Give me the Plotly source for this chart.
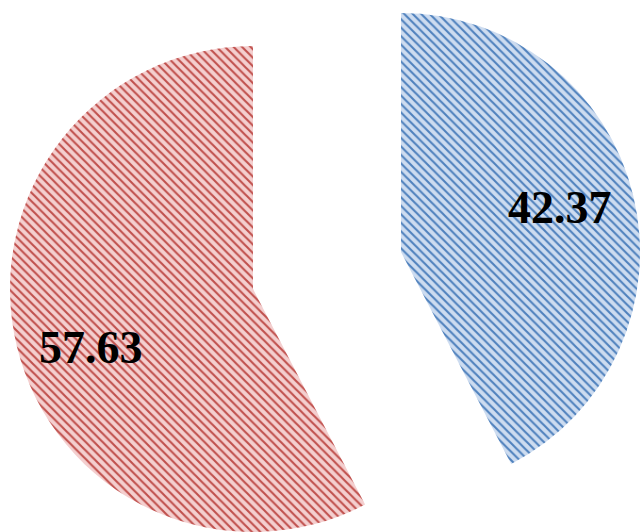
import math
import plotly.graph_objects as go

labels = ["Blue share", "Red share"]
values = [42.37, 57.63]
label_text = ["42.37", "57.63"]

W, H = 640, 532
fill_fg = ["#4f81bd", "#c0504d"]
fill_bg = ["#cddcf0", "#f4cfcf"]

# centres / radius of each exploded slice (pixels)
radii = [239, 243]
centres = [(401, 252), (253, 289)]
# label placement: fraction of radius and angular nudge (deg) from bisector
label_frac = [0.69, 0.71]
label_nudge = [-2, -6]

fig = go.Figure()
total = sum(values)
start = 0.0
for i in range(len(values)):
    cx, cy = centres[i]
    R = radii[i]
    dom_x = [max(0, (cx - R) / W), min(1, (cx + R) / W)]
    dom_y = [max(0, 1 - (cy + R) / H), min(1, 1 - (cy - R) / H)]
    colors = ["rgba(0,0,0,0)"] * len(values)
    colors[i] = fill_fg[i]
    bgs = ["rgba(0,0,0,0)"] * len(values)
    bgs[i] = fill_bg[i]
    shapes = [""] * len(values)
    shapes[i] = "\\"
    fig.add_trace(go.Pie(
        labels=labels,
        values=values,
        sort=False,
        direction="clockwise",
        rotation=0,
        domain=dict(x=dom_x, y=dom_y),
        textinfo="none",
        marker=dict(
            colors=colors,
            line=dict(width=0),
            pattern=dict(shape=shapes, fgcolor=colors, bgcolor=bgs,
                         size=6, solidity=0.35, fillmode="replace"),
        ),
        hoverinfo="skip",
        showlegend=False,
    ))
    # label at the slice bisector (clockwise from 12 o'clock)
    sweep = 360.0 * values[i] / total
    ang = math.radians(start + sweep / 2 + label_nudge[i])
    start += sweep
    lx = cx + label_frac[i] * R * math.sin(ang)
    ly = cy - label_frac[i] * R * math.cos(ang)
    fig.add_annotation(
        x=lx / W, y=1 - ly / H, xref="paper", yref="paper",
        text=label_text[i], showarrow=False,
        xanchor="center", yanchor="middle",
        font=dict(family="Liberation Serif", size=46, color="black", weight="bold"),
    )

fig.update_layout(
    width=W, height=H,
    margin=dict(l=0, r=0, t=0, b=0),
    paper_bgcolor="white",
    plot_bgcolor="white",
    showlegend=False,
)
fig.write_html("out.html")
